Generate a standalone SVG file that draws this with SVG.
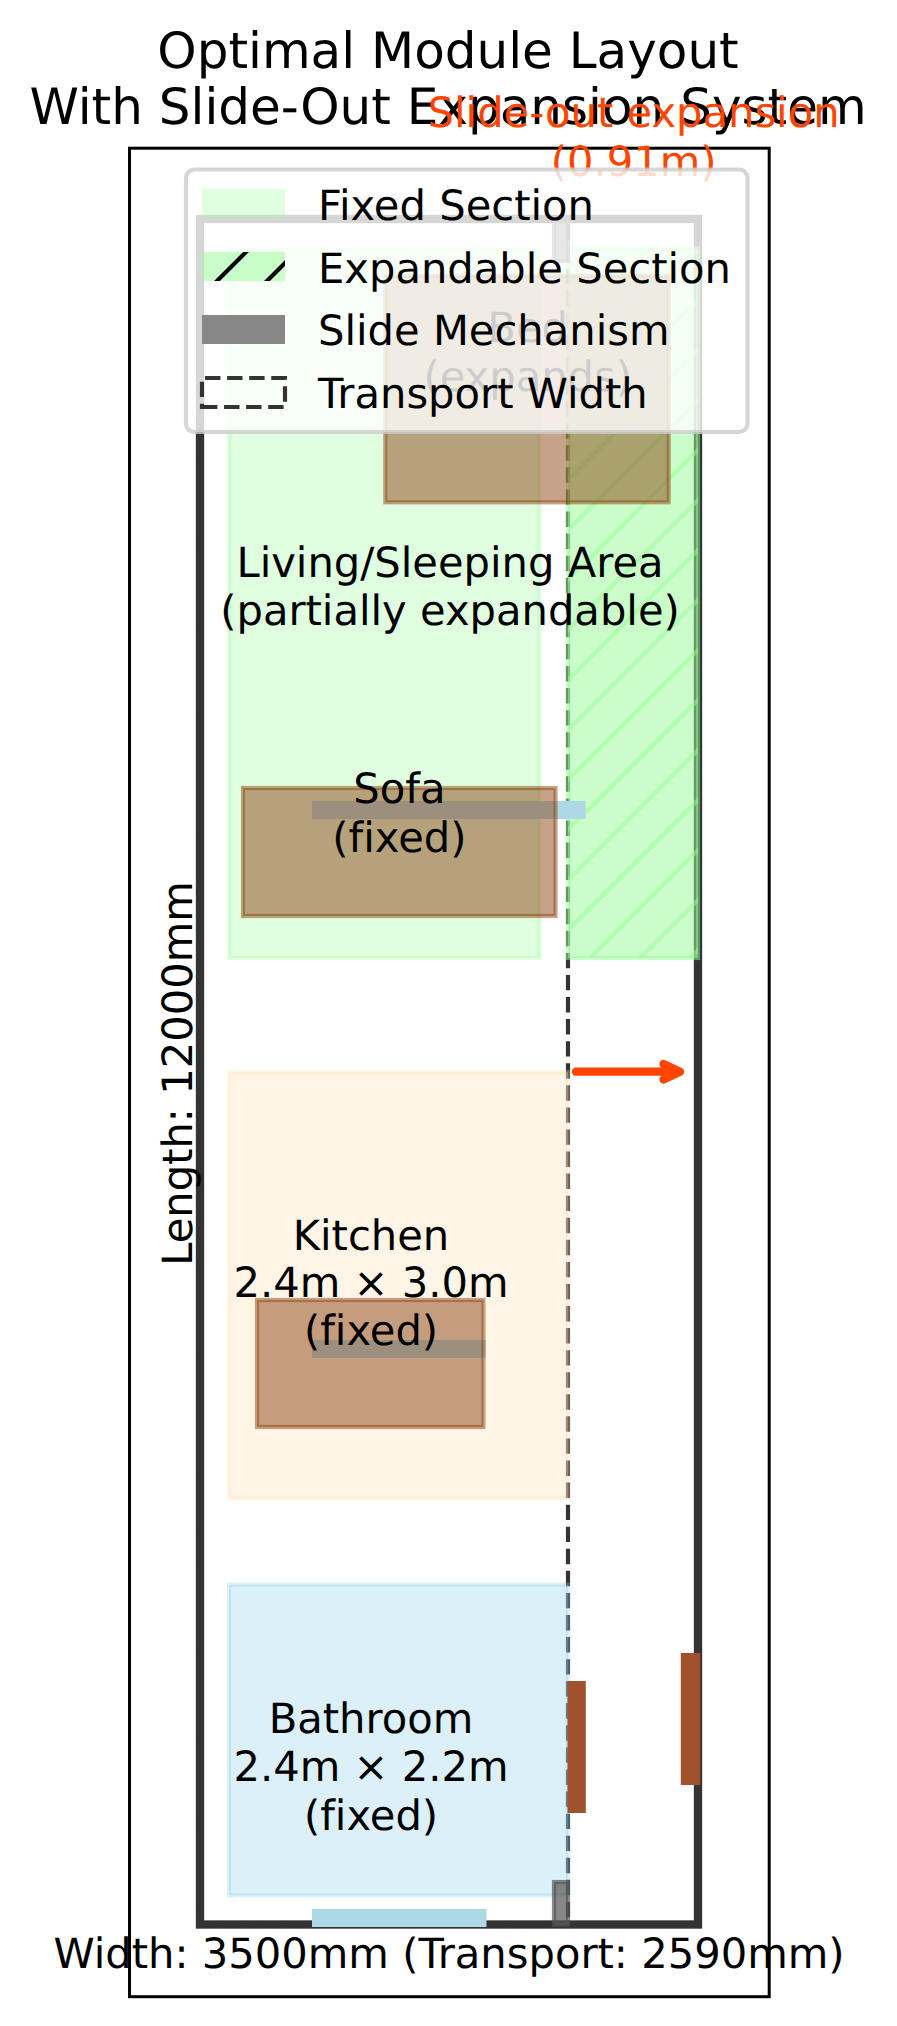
<svg xmlns="http://www.w3.org/2000/svg" width="897" height="2026" viewBox="0 0 897 2026">
<style>
text{font-family:"DejaVu Sans",sans-serif;font-size:41.67px;fill:#000;text-anchor:middle;font-variant-ligatures:none;text-rendering:geometricPrecision}
text.title{font-size:50px}
text.leg{text-anchor:start}
text.orange{fill:#FF4500}
.wall{fill:none;stroke:#333;stroke-width:8.33}
.dash{fill:none;stroke:#333;stroke-width:4.17;stroke-dasharray:15.4 6.67}
.room{stroke-width:4.17;fill-opacity:.3;stroke-opacity:.3}
.green{fill:#98FB98;stroke:#98FB98}
.fur{fill:#8B4513;fill-opacity:.5;stroke:#8B4513;stroke-opacity:.5;stroke-width:4.17}
.door{fill:#A0522D}
.win{fill:#ADD8E6}
.mech{fill:#555;fill-opacity:.7;stroke:#555;stroke-opacity:.7;stroke-width:4.17}
</style>
<defs>
<pattern id="h" patternUnits="userSpaceOnUse" width="50" height="50">
<path d="M-10 58L58 -10M-10 108L108 -10" stroke="#98FB98" stroke-opacity=".5" stroke-width="4.17" fill="none"/>
</pattern>
<pattern id="lh" patternUnits="userSpaceOnUse" width="50" height="50">
<path d="M-10 58L58 -10M-10 108L108 -10" stroke="#000" stroke-width="4.17" fill="none"/>
</pattern>
</defs>
<rect x="0" y="0" width="897" height="2026" fill="#fff"/>
<rect id="frame" x="129.500" y="148.200" width="639.700" height="1848.500" fill="none" stroke="#000" stroke-width="3"/>
<g id="connectors">
<rect class="wall" x="200" y="219" width="498" height="1705.500"/>
<path class="dash" d="M200 1924.500H568V219H200Z"/>
</g>
<g id="living"><rect class="room green" x="229" y="248.500" width="310.500" height="709.500"/></g>
<g id="expandable"><rect class="room green" style="fill-opacity:.5;stroke-opacity:.5" x="568" y="248.500" width="130" height="709.500"/><rect x="568" y="248.500" width="130" height="709.500" fill="url(#h)"/></g>
<g id="kitchen"><rect class="room" fill="#FFDEAD" stroke="#FFDEAD" x="229" y="1072" width="339" height="426"/></g>
<g id="bathroom"><rect class="room" fill="#87CEEB" stroke="#87CEEB" x="229" y="1584.700" width="339" height="310.600"/></g>
<g id="window-bottom"><rect class="win" x="312" y="1909" width="174.500" height="18"/></g>
<g id="window-sofa"><rect class="win" x="312" y="801" width="273.500" height="18"/></g>
<g id="window-kitchen"><rect class="win" x="312" y="1340" width="174" height="18"/></g>
<g id="bed"><rect class="fur" x="385.300" y="276" width="283.400" height="226.300"/><text x="527.700" y="342">Bed</text><text x="527.700" y="391">(expands)</text></g>
<g id="sofa"><rect class="fur" x="243" y="788" width="312.500" height="128"/><text x="399.400" y="803">Sofa</text><text x="399.400" y="852">(fixed)</text></g>
<g id="counter"><rect class="fur" x="257" y="1300" width="226.400" height="127"/></g>
<g id="mech-top"><rect class="mech" x="554" y="219" width="14" height="42"/></g>
<g id="mech-bottom"><rect class="mech" x="554" y="1882" width="14" height="42.700"/></g>
<g id="door-1"><rect class="door" x="567.500" y="1681" width="18.300" height="132"/></g>
<g id="door-2"><rect class="door" x="680.800" y="1653" width="19.400" height="132"/></g>
<g id="labels">
<text x="450" y="577">Living/Sleeping Area</text>
<text x="450" y="625">(partially expandable)</text>
<text x="371" y="1249.500">Kitchen</text>
<text x="371" y="1297">2.4m × 3.0m</text>
<text x="371" y="1345">(fixed)</text>
<text x="371" y="1733">Bathroom</text>
<text x="371" y="1781">2.4m × 2.2m</text>
<text x="371" y="1829.500">(fixed)</text>
<text x="449" y="1968">Width: 3500mm (Transport: 2590mm)</text>
<text transform="translate(191.500 1073.500) rotate(-90)">Length: 12000mm</text>
</g>
<g id="arrow"><path d="M576 1071.700H680M663.500 1064L680 1071.700L663.500 1079.500" fill="none" stroke="#FF4500" stroke-width="8.33" stroke-linecap="round" stroke-linejoin="round"/></g>
<g id="title">
<text class="title" x="448" y="68">Optimal Module Layout</text>
<text class="title" x="448" y="124">With Slide-Out Expansion System</text>
</g>
<g id="expansion-label">
<text class="orange" x="633.600" y="127">Slide-out expansion</text>
<text class="orange" x="633.600" y="176">(0.91m)</text>
</g>
<g id="legend">
<rect x="186" y="169.500" width="561.500" height="262.500" rx="8.330" fill="#fff" fill-opacity=".8" stroke="#ccc" stroke-opacity=".8" stroke-width="4.17"/>
<rect x="202" y="189" width="83" height="29" fill="#98FB98" fill-opacity=".3"/>
<rect x="202" y="252" width="83" height="29" fill="#98FB98" fill-opacity=".5"/>
<rect x="202" y="252" width="83" height="29" fill="url(#lh)"/>
<rect x="202" y="315" width="83" height="29" fill="#878787"/>
<path class="dash" d="M202 407H285V378H202Z"/>
<text class="leg" x="318" y="220">Fixed Section</text>
<text class="leg" x="318" y="282.500">Expandable Section</text>
<text class="leg" x="318" y="345">Slide Mechanism</text>
<text class="leg" x="318" y="407.500">Transport Width</text>
</g>
</svg>
